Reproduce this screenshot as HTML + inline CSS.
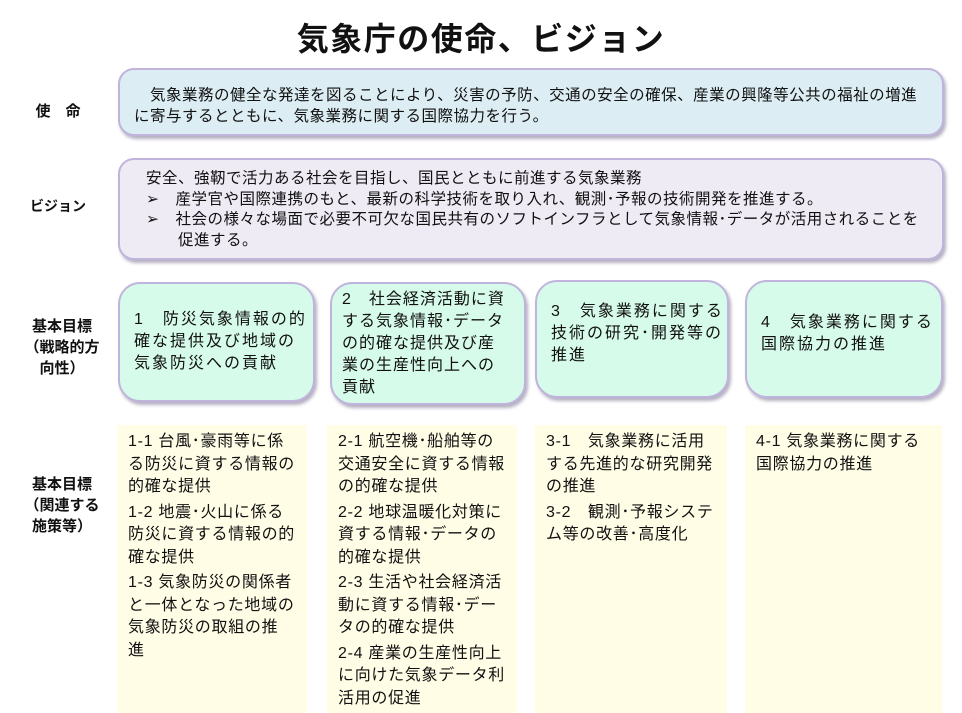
<!DOCTYPE html>
<html><head><meta charset="utf-8"><style>
*{margin:0;padding:0;box-sizing:border-box}
body{width:962px;height:713px;background:#fff;position:relative;overflow:hidden;font-family:"Liberation Sans","Noto Sans CJK JP",sans-serif;color:#111}
.a{position:absolute}
.t{font-size:15.5px;letter-spacing:0.5px;line-height:21px;white-space:nowrap}
.box{position:absolute;border:2px solid #c0b4dc;border-radius:16px;box-shadow:2px 3px 3px rgba(90,80,120,.45)}
.g{background:#d6fbea;border-radius:22px;font-size:16px;letter-spacing:2px;line-height:22px;display:flex;align-items:center;padding:0 14px;white-space:nowrap}
.y{position:absolute;background:#fffde6;top:425px;height:288px;font-size:16px;letter-spacing:0.7px;line-height:22.5px;padding:6px 10px 0 11px;white-space:nowrap}
.y p{margin-bottom:3px}
.lab{position:absolute;font-size:15px;font-weight:bold;text-align:center;line-height:20px}
</style></head><body>
<div class="a" style="left:0;width:962px;top:14px;text-align:center;font-size:32px;letter-spacing:1.5px;font-weight:bold">気象庁の使命、ビジョン</div>
<div class="lab" style="left:28px;top:102px;width:60px">使　命</div>
<div class="lab" style="left:18px;top:196px;width:80px;font-size:14px">ビジョン</div>
<div class="lab" style="left:12px;top:316px;width:100px;line-height:21px">基本目標<br>（戦略的方<br>向性）</div>
<div class="lab" style="left:12px;top:474px;width:100px;line-height:21px">基本目標<br>（関連する<br>施策等）</div>

<div class="box t" style="left:118px;top:68px;width:826px;height:68px;background:#dcedf3;padding:15px 0 0 14px">　気象業務の健全な発達を図ることにより、災害の予防、交通の安全の確保、産業の興隆等公共の福祉の増進<br>に寄与するとともに、気象業務に関する国際協力を行う。</div>
<div class="box t" style="left:118px;top:158px;width:826px;height:102px;background:#eeebf5;padding:9px 0 0 26px;line-height:20.5px">安全、強靭で活力ある社会を目指し、国民とともに前進する気象業務<br>➢　産学官や国際連携のもと、最新の科学技術を取り入れ、観測･予報の技術開発を推進する。<br>➢　社会の様々な場面で必要不可欠な国民共有のソフトインフラとして気象情報･データが活用されることを<br>　　促進する。</div>

<div class="box g" style="left:118px;top:282px;width:197px;height:120px">1　防災気象情報の的<br>確な提供及び地域の<br>気象防災への貢献</div>
<div class="box g" style="left:330px;top:282px;width:196px;height:123px;padding-left:10px;letter-spacing:1px">2　社会経済活動に資<br>する気象情報･データ<br>の的確な提供及び産<br>業の生産性向上への<br>貢献</div>
<div class="box g" style="left:535px;top:280px;width:194px;height:118px;padding-bottom:10px">3　気象業務に関する<br>技術の研究･開発等の<br>推進</div>
<div class="box g" style="left:745px;top:280px;width:198px;height:118px;padding-bottom:10px">4　気象業務に関する<br>国際協力の推進</div>

<div class="y" style="left:117px;width:190px"><p>1-1 台風･豪雨等に係<br>る防災に資する情報の<br>的確な提供</p><p>1-2 地震･火山に係る<br>防災に資する情報の的<br>確な提供</p><p>1-3 気象防災の関係者<br>と一体となった地域の<br>気象防災の取組の推<br>進</p></div>
<div class="y" style="left:327px;width:190px"><p>2-1 航空機･船舶等の<br>交通安全に資する情報<br>の的確な提供</p><p>2-2 地球温暖化対策に<br>資する情報･データの<br>的確な提供</p><p>2-3 生活や社会経済活<br>動に資する情報･デー<br>タの的確な提供</p><p>2-4 産業の生産性向上<br>に向けた気象データ利<br>活用の促進</p></div>
<div class="y" style="left:535px;width:192px"><p>3-1　気象業務に活用<br>する先進的な研究開発<br>の推進</p><p>3-2　観測･予報システ<br>ム等の改善･高度化</p></div>
<div class="y" style="left:745px;width:197px"><p>4-1 気象業務に関する<br>国際協力の推進</p></div>
</body></html>
